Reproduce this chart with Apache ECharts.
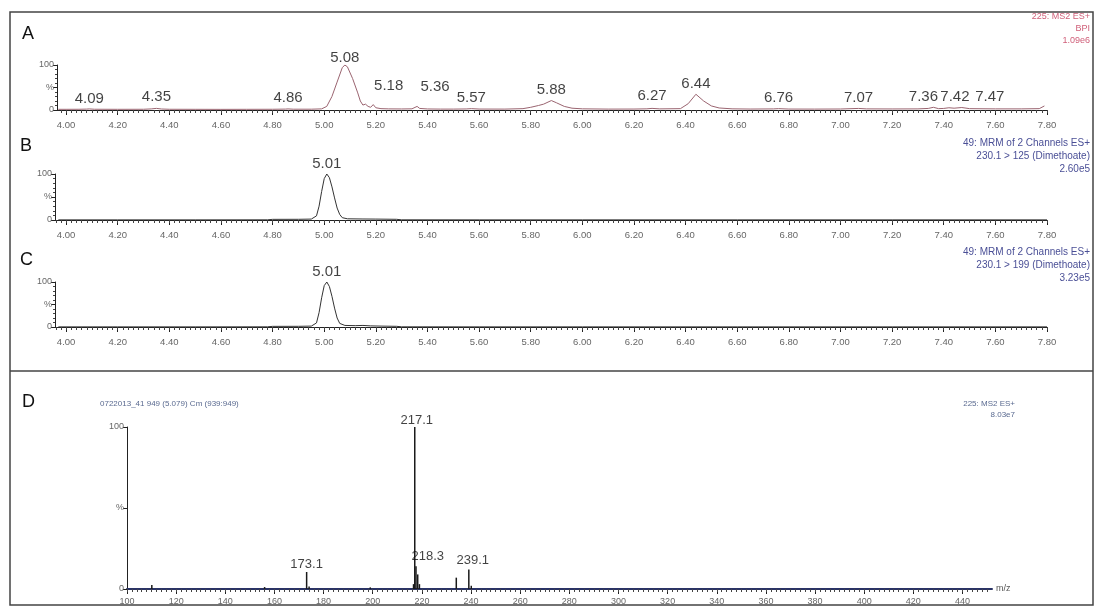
<!DOCTYPE html>
<html><head><meta charset="utf-8">
<script src="https://cdn.jsdelivr.net/npm/echarts@6/dist/echarts.min.js"></script>
<style>html,body{margin:0;padding:0;background:#fff}#c{width:1101px;height:613px}</style>
</head><body><div id="c"></div>
<script>
// ---------------- DATA ----------------
const rtTickLabels = ['4.00','4.20','4.40','4.60','4.80','5.00','5.20','5.40','5.60','5.80','6.00','6.20','6.40','6.60','6.80','7.00','7.20','7.40','7.60','7.80'];
const mzTickLabels = ['100','120','140','160','180','200','220','240','260','280','300','320','340','360','380','400','420','440'];

// Panel A: BPI chromatogram (retention time, % intensity)
const traceA = [[3.97,1.5],[4.00,1.5],[4.05,1.6],[4.08,2.0],[4.09,2.4],[4.11,1.7],[4.20,1.5],[4.30,1.6],[4.33,2.4],[4.35,3.6],[4.37,2.2],[4.40,1.6],[4.50,1.5],[4.60,1.4],[4.70,1.5],[4.80,1.6],[4.85,2.0],[4.86,2.4],[4.88,1.8],[4.95,1.8],[4.99,2.5],[5.01,8],[5.03,30],[5.05,62],[5.07,94],[5.08,100],[5.09,96],[5.11,70],[5.13,38],[5.14,20],[5.15,11],[5.16,13],[5.17,8],[5.18,6],[5.19,12],[5.20,5],[5.22,3],[5.25,2.5],[5.30,2.3],[5.34,2.6],[5.36,8],[5.37,3.5],[5.40,2.3],[5.45,2.0],[5.50,2.0],[5.55,2.3],[5.57,3.0],[5.60,2.1],[5.70,2.0],[5.77,3.0],[5.80,6],[5.83,10],[5.85,13],[5.88,21],[5.90,16],[5.93,8],[5.96,4],[6.00,2.6],[6.10,2.0],[6.20,2.1],[6.25,2.6],[6.27,3.6],[6.30,2.5],[6.38,3.0],[6.41,14],[6.44,35],[6.47,20],[6.50,9],[6.53,4.5],[6.58,2.6],[6.65,2.1],[6.74,2.4],[6.76,3.0],[6.80,2.1],[6.90,2.0],[7.00,2.2],[7.07,3.5],[7.10,2.5],[7.20,2.3],[7.30,2.5],[7.34,3.5],[7.36,6],[7.38,3.0],[7.40,3.5],[7.42,5.0],[7.44,4.0],[7.47,5.5],[7.50,3.0],[7.60,2.5],[7.70,2.5],[7.77,3.0],[7.79,9]];
const peakTextA = ['4.09','4.35','4.86','5.08','5.18','5.36','5.57','5.88','6.27','6.44','6.76','7.07','7.36','7.42','7.47'];
const peakRtA   = [4.09,4.35,4.86,5.08,5.18,5.36,5.57,5.88,6.27,6.44,6.76,7.07,7.36,7.42,7.47];
const peakHtA   = [2.4,3.6,2.4,100,6,8,3.0,21,3.6,35,3.0,3.5,6,5.0,5.5];

// Panel B: MRM 230.1 > 125
const traceB = [[3.97,0.3],[4.20,0.3],[4.50,0.3],[4.78,0.4],[4.80,1.4],[4.90,1.5],[4.95,2.0],[4.97,9],[4.98,30],[4.99,62],[5.00,90],[5.01,100],[5.02,92],[5.03,72],[5.04,48],[5.05,26],[5.06,12],[5.07,5],[5.09,2.6],[5.15,2.2],[5.20,2.0],[5.28,1.5],[5.30,0.4],[5.60,0.3],[6.00,0.3],[6.60,0.3],[7.20,0.3],[7.80,0.3]];
// Panel C: MRM 230.1 > 199
const traceC = [[3.97,0.3],[4.20,0.3],[4.50,0.3],[4.78,0.4],[4.80,1.4],[4.90,1.5],[4.95,2.0],[4.97,9],[4.98,32],[4.99,65],[5.00,92],[5.01,100],[5.02,90],[5.03,68],[5.04,42],[5.05,20],[5.06,8],[5.08,3.5],[5.12,3.0],[5.15,3.5],[5.18,2.5],[5.22,2.0],[5.28,1.5],[5.30,0.4],[5.60,0.3],[6.00,0.3],[6.60,0.3],[7.20,0.3],[7.80,0.3]];
const peakTextB = ['5.01']; const peakRtB = [5.01]; const peakHtB = [100];
const peakTextC = ['5.01']; const peakRtC = [5.01]; const peakHtC = [100];

// Panel D: MS2 spectrum (m/z, % intensity)
const spectrumMz  = [110.1,156.0,173.1,174.1,199.0,216.6,217.1,217.6,218.3,219.0,234.0,239.1,240.1];
const spectrumInt = [2.5,1.2,10.5,1.5,1.0,3.0,100,14,9,3,7,12,2];
const peakTextD = ['173.1','217.1','218.3','239.1'];
const peakMzD   = [173.1,217.1,218.3,239.1];
const peakHtD   = [10.5,100,14,12];

// ---------------- LAYOUT / STYLE ----------------
const FONT = 'Liberation Sans, Arial, sans-serif';
const rtTickValues = rtTickLabels.map(Number);
const mzTickValues = mzTickLabels.map(Number);
const rtMinor = []; for (let k = 198; k <= 390; k++) rtMinor.push(+(k*0.02).toFixed(2));
const mzMinor = []; for (let k = 50; k <= 225; k++) mzMinor.push(k*2);

const RT_MIN = 3.965, RT_MAX = 7.80, MZ_MIN = 100, MZ_MAX = 452;
const grids = [
  {left:57, top:65, width:990, height:45},
  {left:55, top:174, width:992, height:46},
  {left:55, top:282, width:992, height:45},
  {left:127, top:427, width:865, height:162}
];
const axisCol = '#222';
function rtAxes(g, mn){
  return [
    {gridIndex:g,type:'value',position:'bottom',min:mn,max:RT_MAX,
     axisLine:{lineStyle:{color:axisCol,width:1.2}},
     axisTick:{customValues:rtTickValues,length:5,lineStyle:{color:axisCol}},
     axisLabel:{customValues:rtTickValues,formatter:v=>rtTickLabels[rtTickValues.indexOf(+v.toFixed(2))]||v.toFixed(2),fontSize:9.5,color:'#666',fontFamily:FONT,margin:10},
     splitLine:{show:false}},
    {gridIndex:g,type:'value',position:'bottom',offset:0,min:mn,max:RT_MAX,
     axisLine:{show:false},
     axisTick:{customValues:rtMinor,length:3,lineStyle:{color:'#444'}},
     axisLabel:{show:false},splitLine:{show:false}}
  ];
}
function pctAxis(g, minor){
  return {gridIndex:g,type:'value',min:0,max:100,interval:50,
    axisLine:{show:true,lineStyle:{color:axisCol,width:1}},
    axisTick:{show:true,length:4,lineStyle:{color:axisCol}},
    minorTick:{show:minor,splitNumber:5,length:2,lineStyle:{color:'#444'}},
    axisLabel:{formatter:v=>v===50?'%':String(v),fontSize:9,color:'#666',fontFamily:FONT,margin:3},
    splitLine:{show:false}};
}
const xAxes = [...rtAxes(0,RT_MIN), ...rtAxes(1,3.957), ...rtAxes(2,3.957),
  {gridIndex:3,type:'value',position:'bottom',min:MZ_MIN,max:MZ_MAX,
   axisLine:{lineStyle:{color:'#2a3366',width:2}},
   axisTick:{customValues:mzTickValues,length:5,lineStyle:{color:axisCol}},
   axisLabel:{customValues:mzTickValues,formatter:v=>String(Math.round(v)),fontSize:9,color:'#666',fontFamily:FONT,margin:8},
   splitLine:{show:false}},
  {gridIndex:3,type:'value',position:'bottom',offset:0,min:MZ_MIN,max:MZ_MAX,axisLine:{show:false},
   axisTick:{customValues:mzMinor,length:3,lineStyle:{color:'#444'}},axisLabel:{show:false},splitLine:{show:false}}
];
const yAxes = [pctAxis(0,true), pctAxis(1,true), pctAxis(2,true), pctAxis(3,false)];

// label offsets (px) to reproduce the instrument's label placement
const labelOffsetA = [[0,0],[0,-1],[0,-1],[0,3],[18,-11],[18,-9],[0,0],[0,0],[0,-2],[0,0],[0,0],[0,0],[-10,0],[6,0],[28,0]];
const labelOffsetD = [[0,2],[2,3],[10,0],[4,0]];

function labelSeries(xi, yi, texts, xs, ys, offsets, size){
  return {type:'scatter',xAxisIndex:xi,yAxisIndex:yi,symbolSize:0,silent:true,z:5,
    data:texts.map((t,i)=>({name:t,value:[xs[i],ys[i]],
      label:{offset:offsets?offsets[i]:[0,0]}})),
    label:{show:true,position:'top',distance:3,formatter:p=>p.name,fontSize:size,color:'#111',fontFamily:FONT}};
}
const lineStyleFor = c => ({type:'line',showSymbol:false,symbol:'none',lineStyle:{width:1,color:c},z:3});

const series = [
  Object.assign(lineStyleFor('#9a6470'),{xAxisIndex:0,yAxisIndex:0,data:traceA}),
  Object.assign(lineStyleFor('#333'),{xAxisIndex:2,yAxisIndex:1,data:traceB}),
  Object.assign(lineStyleFor('#333'),{xAxisIndex:4,yAxisIndex:2,data:traceC}),
  {type:'bar',xAxisIndex:6,yAxisIndex:3,barWidth:1.5,itemStyle:{color:'#1a1a1a'},
   data:spectrumMz.map((m,i)=>[m,spectrumInt[i]]),z:3},
  labelSeries(0,0,peakTextA,peakRtA,peakHtA,labelOffsetA,15),
  labelSeries(2,1,peakTextB,peakRtB,peakHtB,null,15),
  labelSeries(4,2,peakTextC,peakRtC,peakHtC,null,15),
  labelSeries(6,3,peakTextD,peakMzD,peakHtD,labelOffsetD,13)
];

function txt(x,y,s,opt){
  return {type:'text',x:x,y:y,style:Object.assign({text:s,font:'10px '+FONT,fill:'#333',textVerticalAlign:'middle'},opt||{})};
}
const pink='#d0607a', blue='#4a4f96', grayBlue='#5a6a90';
const graphic = [
  {type:'rect',shape:{x:10,y:12,width:1083,height:593},style:{fill:'none',stroke:'#444',lineWidth:1.5}},
  {type:'line',shape:{x1:10,y1:371,x2:1093,y2:371},style:{stroke:'#444',lineWidth:1.5}},
  txt(22,34,'A',{font:'18px '+FONT,fill:'#111'}),
  txt(20,146,'B',{font:'18px '+FONT,fill:'#111'}),
  txt(20,260,'C',{font:'18px '+FONT,fill:'#111'}),
  txt(22,402,'D',{font:'18px '+FONT,fill:'#111'}),
  txt(1090,17,'225: MS2 ES+',{textAlign:'right',fill:pink,font:'9px '+FONT}),
  txt(1090,29,'BPI',{textAlign:'right',fill:pink,font:'9px '+FONT}),
  txt(1090,41,'1.09e6',{textAlign:'right',fill:pink,font:'9px '+FONT}),
  txt(1090,143,'49: MRM of 2 Channels ES+',{textAlign:'right',fill:blue,font:'10px '+FONT}),
  txt(1090,156,'230.1 > 125 (Dimethoate)',{textAlign:'right',fill:blue,font:'10px '+FONT}),
  txt(1090,169,'2.60e5',{textAlign:'right',fill:blue,font:'10px '+FONT}),
  txt(1090,252,'49: MRM of 2 Channels ES+',{textAlign:'right',fill:blue,font:'10px '+FONT}),
  txt(1090,265,'230.1 > 199 (Dimethoate)',{textAlign:'right',fill:blue,font:'10px '+FONT}),
  txt(1090,278,'3.23e5',{textAlign:'right',fill:blue,font:'10px '+FONT}),
  txt(100,404,'0722013_41 949 (5.079) Cm (939:949)',{fill:grayBlue,font:'8px '+FONT}),
  txt(1015,404,'225: MS2 ES+',{textAlign:'right',fill:grayBlue,font:'8px '+FONT}),
  txt(1015,415,'8.03e7',{textAlign:'right',fill:grayBlue,font:'8px '+FONT}),
  txt(996,589,'m/z',{fill:'#555',font:'9px '+FONT})
];

const chart = echarts.init(document.getElementById('c'),null,{renderer:'canvas'});
chart.setOption({animation:false,backgroundColor:'#fff',grid:grids,xAxis:xAxes,yAxis:yAxes,series:series,graphic:graphic});
</script></body></html>
